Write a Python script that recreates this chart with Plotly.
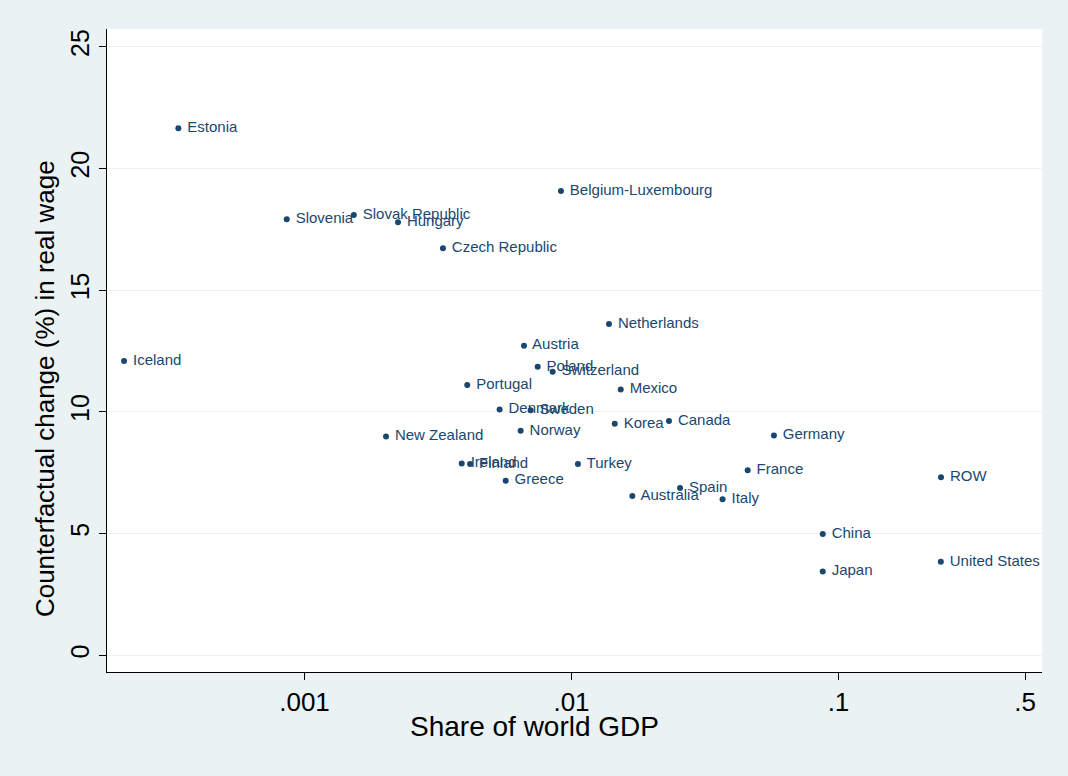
import plotly.graph_objects as go

# =============================================================================
# DATA
# =============================================================================

countries = [
    "Estonia", "Iceland", "Slovenia", "Slovak Republic", "Hungary",
    "Czech Republic", "Belgium-Luxembourg", "Netherlands", "Austria", "Poland",
    "Switzerland", "Portugal", "Mexico", "Denmark", "Sweden", "Korea",
    "Canada", "Norway", "New Zealand", "Germany", "Ireland", "Finland",
    "Turkey", "Greece", "France", "ROW", "Spain", "Australia", "Italy",
    "China", "Japan", "United States",
]

gdp_share = [
    0.000337, 0.000211, 0.000858, 0.00153, 0.00224,
    0.00330, 0.00913, 0.01382, 0.00664, 0.00747,
    0.00850, 0.00407, 0.01529, 0.00538, 0.00703, 0.01452,
    0.02318, 0.00645, 0.00202, 0.0573, 0.00388, 0.00417,
    0.01057, 0.00567, 0.0457, 0.2421, 0.0255, 0.0169, 0.0368,
    0.0873, 0.0873, 0.2417,
]

wage_change = [
    21.65, 12.09, 17.91, 18.09, 17.79,
    16.72, 19.07, 13.61, 12.72, 11.85,
    11.65, 11.10, 10.92, 10.10, 10.07, 9.51,
    9.62, 9.22, 8.99, 9.03, 7.88, 7.86,
    7.86, 7.17, 7.60, 7.31, 6.87, 6.54, 6.41,
    4.98, 3.44, 3.84,
]

x_tickvals = [0.001, 0.01, 0.1, 0.5]
x_ticktext = [".001", ".01", ".1", ".5"]
y_tickvals = [0, 5, 10, 15, 20, 25]

# =============================================================================
# STYLE
# =============================================================================

NAVY = "#1a476f"
BG = "#eaf2f3"
FONT = "Liberation Sans, Arial, sans-serif"

fig = go.Figure()

fig.add_trace(
    go.Scatter(
        x=gdp_share,
        y=wage_change,
        mode="markers+text",
        text=countries,
        texttemplate=" %{text}",
        textposition="middle right",
        textfont=dict(family=FONT, size=15, color=NAVY),
        marker=dict(size=6, color=NAVY),
        cliponaxis=False,
        showlegend=False,
        hoverinfo="x+y+text",
    )
)

fig.update_layout(
    width=1068,
    height=776,
    paper_bgcolor=BG,
    plot_bgcolor="white",
    margin=dict(l=107, r=26, t=29, b=104),
    font=dict(family=FONT, color="black"),
    # Stata centres the axis titles on the whole graph, not the plot region
    annotations=[
        dict(
            text="Share of world GDP",
            xref="paper", yref="paper",
            x=0.4567, y=-0.0855,
            xanchor="center", yanchor="middle",
            showarrow=False,
            font=dict(size=28),
        ),
        dict(
            text="Counterfactual change (%) in real wage",
            xref="paper", yref="paper",
            x=-0.0663, y=0.44,
            xanchor="center", yanchor="middle",
            textangle=-90,
            showarrow=False,
            font=dict(size=26),
        ),
    ],
)

fig.update_xaxes(
    type="log",
    range=[-3.7397, -0.2378],
    tickvals=x_tickvals,
    ticktext=x_ticktext,
    ticks="outside",
    ticklen=7,
    tickcolor="black",
    tickfont=dict(size=26),
    showline=True,
    linecolor="black",
    linewidth=1,
    showgrid=False,
    zeroline=False,
)

fig.update_yaxes(
    range=[-0.69, 25.73],
    tickvals=y_tickvals,
    ticks="outside",
    ticklen=7,
    tickcolor="black",
    tickangle=-90,
    tickfont=dict(size=25),
    showline=True,
    linecolor="black",
    linewidth=1,
    showgrid=True,
    gridcolor=BG,
    gridwidth=1,
    zeroline=False,
)

# page body has an 8px default margin; remove it so the figure sits at 0,0
fig.write_html(
    "out.html",
    config={"displayModeBar": False},
    post_script="document.body.style.margin='0';",
)
